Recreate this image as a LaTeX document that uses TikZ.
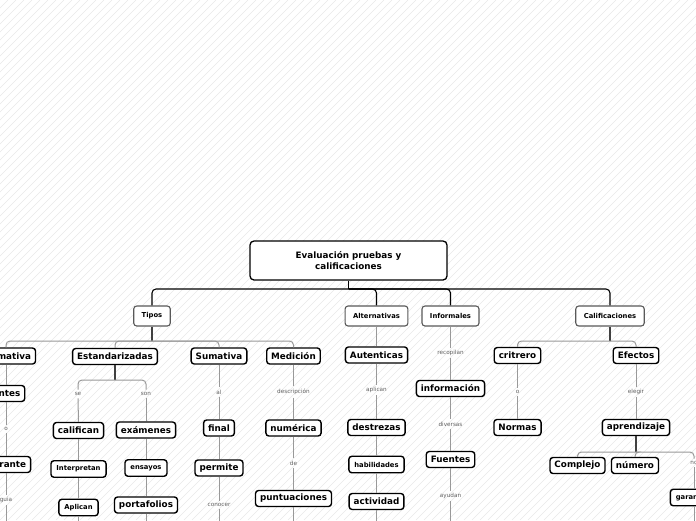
\documentclass[tikz,border=0pt]{standalone}
\usepackage{fontspec}
\setmainfont{DejaVu Sans}
\begin{document}
\begin{tikzpicture}[x=1pt,y=-1pt,
  lvone/.style={draw=black!65, line width=1.1pt, rounded corners=3pt, fill=white, font=\bfseries\fontsize{6.8}{8}\selectfont, minimum height=20pt, inner xsep=8pt, inner ysep=0pt},
  big/.style={draw=black, line width=1.4pt, rounded corners=3pt, fill=white, font=\bfseries\fontsize{8.8}{10}\selectfont, minimum height=16pt, inner xsep=4.5pt, inner ysep=0pt},
  small/.style={big, font=\bfseries\fontsize{6.8}{8}\selectfont, minimum height=16.5pt, inner xsep=5.5pt},
  lbl/.style={font=\fontsize{5.7}{6.5}\selectfont, text=black!62, inner sep=2.5pt},
  rootline/.style={draw=black, line width=1.1pt, rounded corners=4pt},
  trunk/.style={draw=black!75, line width=1.1pt},
  branch/.style={draw=black!40, line width=1pt, rounded corners=4pt},
  hatch/.style={draw=black!9, line width=0.5pt}
]
\useasboundingbox (0,0) rectangle (696,520);
\clip (0,0) rectangle (696,520);
\fill[white] (0,0) rectangle (696,520);
\foreach \i in {-520,-512,...,696} \draw[hatch] (\i,520) -- ({\i+520},0);

% bus coordinates
\coordinate (b0) at (0,289);
\coordinate (b1) at (0,341);
\coordinate (b2) at (0,341);
\coordinate (b3) at (0,380);
\coordinate (b4) at (0,452);

% root
\node[draw, fill=white, line width=1.3pt, rounded corners=4pt, minimum width=197pt, minimum height=39pt, align=center, font=\bfseries\fontsize{8.8}{10.5}\selectfont] (root) at (348.5,260.5) {Evaluación pruebas y\\calificaciones};

% level one
\node[lvone] (tipos) at (152,316) {Tipos};
\node[lvone] (alt) at (376.5,316) {Alternativas};
\node[lvone] (inf) at (450.5,316) {Informales};
\node[lvone] (cal) at (610,316) {Calificaciones};

% Tipos children
\node[big] (form) at (6,356) {Formativa};
\node[big] (antes) at (6,393.5) {Antes};
\node[lbl] (lo) at (6,429) {o};
\node[big] (durante) at (6,464.5) {Durante};
\node[lbl] (lguia) at (6,500) {guia};
\coordinate (eform) at (6,530);

\node[big] (estand) at (115,356.5) {Estandarizadas};
\node[lbl] (lse) at (78,394) {se};
\node[lbl] (lson) at (146,394) {son};
\node[big] (calif) at (78.5,430.5) {califican};
\node[big] (exam) at (146,430) {exámenes};
\node[small] (interp) at (78.5,469) {Interpretan};
\node[small] (ensay) at (146,468) {ensayos};
\node[small] (aplic) at (78.5,507.5) {Aplican};
\node[big] (porta) at (146,505) {portafolios};
\coordinate (eaplic) at (78.5,530);
\coordinate (eporta) at (146,530);

\node[big] (suma) at (219,356) {Sumativa};
\node[lbl] (lal) at (219,392) {al};
\node[big] (final) at (219,428) {final};
\node[big] (permite) at (219,468) {permite};
\node[lbl] (lconocer) at (219,505) {conocer};
\coordinate (econocer) at (219,530);

\node[big] (medic) at (293.5,356) {Medición};
\node[lbl] (ldesc) at (293.5,392) {descripción};
\node[big] (numer) at (293.5,428) {numérica};
\node[lbl] (lde) at (293.5,463) {de};
\node[big] (puntu) at (293.5,498.5) {puntuaciones};
\coordinate (epuntu) at (293.5,530);

% Alternativas
\node[big] (auten) at (376.5,355) {Autenticas};
\node[lbl] (laplican) at (376.5,390) {aplican};
\node[big] (destr) at (376.5,427.5) {destrezas};
\node[small] (habil) at (376.5,464.5) {habilidades};
\node[big] (activ) at (376.5,501.5) {actividad};
\coordinate (eactiv) at (376.5,530);

% Informales
\node[lbl] (lrecop) at (450.5,353) {recopilan};
\node[big] (info) at (450.5,388.5) {información};
\node[lbl] (ldivers) at (450.5,424) {diversas};
\node[big] (fuentes) at (450.5,459.5) {Fuentes};
\node[lbl] (layudan) at (450.5,496) {ayudan};
\coordinate (eayudan) at (450.5,530);

% Calificaciones
\node[big] (critr) at (517.5,355.5) {critrero};
\node[lbl] (lo2) at (517.5,392) {o};
\node[big] (normas) at (517.5,427.5) {Normas};
\node[big] (efect) at (636,355.5) {Efectos};
\node[lbl] (lelegir) at (636,392) {elegir};
\node[big] (aprend) at (636,427.5) {aprendizaje};
\node[big] (complejo) at (577.5,465.5) {Complejo};
\node[big] (numero) at (635,465.5) {número};
\node[lbl] (lno) at (694,463) {no};
\node[small] (garan) at (694,497.5) {garantiza};
\coordinate (egaran) at (694,530);

% root connectors
\draw[rootline] (root.south) -- (root.south |- b0);
\draw[rootline] (root.south |- b0) -| (tipos.north);
\draw[rootline] (root.south |- b0) -| (alt.north);
\draw[rootline] (root.south |- b0) -| (inf.north);
\draw[rootline] (root.south |- b0) -| (cal.north);

% Tipos connectors
\draw[trunk] (tipos.south) -- (tipos.south |- b1);
\draw[branch] (tipos.south |- b1) -| (form.north);
\draw[branch] (tipos.south |- b1) -| (estand.north);
\draw[branch] (tipos.south |- b1) -| (suma.north);
\draw[branch] (tipos.south |- b1) -| (medic.north);

\draw[branch] (form.south) -- (antes.north);
\draw[branch] (antes.south) -- (lo.north);
\draw[branch] (lo.south) -- (durante.north);
\draw[branch] (durante.south) -- (lguia.north);
\draw[branch] (lguia.south) -- (eform);

\draw[trunk] (estand.south) -- (estand.south |- b3);
\draw[branch] (estand.south |- b3) -| (lse.north);
\draw[branch] (estand.south |- b3) -| (lson.north);
\draw[branch] (lse.south) -- (calif.north);
\draw[branch] (lson.south) -- (exam.north);
\draw[branch] (calif.south) -- (interp.north);
\draw[branch] (interp.south) -- (aplic.north);
\draw[branch] (aplic.south) -- (eaplic);
\draw[branch] (exam.south) -- (ensay.north);
\draw[branch] (ensay.south) -- (porta.north);
\draw[branch] (porta.south) -- (eporta);

\draw[branch] (suma.south) -- (lal.north);
\draw[branch] (lal.south) -- (final.north);
\draw[branch] (final.south) -- (permite.north);
\draw[branch] (permite.south) -- (lconocer.north);
\draw[branch] (lconocer.south) -- (econocer);

\draw[branch] (medic.south) -- (ldesc.north);
\draw[branch] (ldesc.south) -- (numer.north);
\draw[branch] (numer.south) -- (lde.north);
\draw[branch] (lde.south) -- (puntu.north);
\draw[branch] (puntu.south) -- (epuntu);

% Alternativas connectors
\draw[branch] (alt.south) -- (auten.north);
\draw[branch] (auten.south) -- (laplican.north);
\draw[branch] (laplican.south) -- (destr.north);
\draw[branch] (destr.south) -- (habil.north);
\draw[branch] (habil.south) -- (activ.north);
\draw[branch] (activ.south) -- (eactiv);

% Informales connectors
\draw[branch] (inf.south) -- (lrecop.north);
\draw[branch] (lrecop.south) -- (info.north);
\draw[branch] (info.south) -- (ldivers.north);
\draw[branch] (ldivers.south) -- (fuentes.north);
\draw[branch] (fuentes.south) -- (layudan.north);
\draw[branch] (layudan.south) -- (eayudan);

% Calificaciones connectors
\draw[trunk] (cal.south) -- (cal.south |- b2);
\draw[branch] (cal.south |- b2) -| (critr.north);
\draw[branch] (cal.south |- b2) -| (efect.north);
\draw[branch] (critr.south) -- (lo2.north);
\draw[branch] (lo2.south) -- (normas.north);
\draw[branch] (efect.south) -- (lelegir.north);
\draw[branch] (lelegir.south) -- (aprend.north);
\draw[trunk] (aprend.south) -- (aprend.south |- b4);
\draw[branch] (aprend.south |- b4) -| (complejo.north);
\draw[branch] (aprend.south |- b4) -| (numero.north);
\draw[branch] (aprend.south |- b4) -| (lno.north);
\draw[branch] (lno.south) -- (garan.north);
\draw[branch] (garan.south) -- (egaran);
\end{tikzpicture}
\end{document}
